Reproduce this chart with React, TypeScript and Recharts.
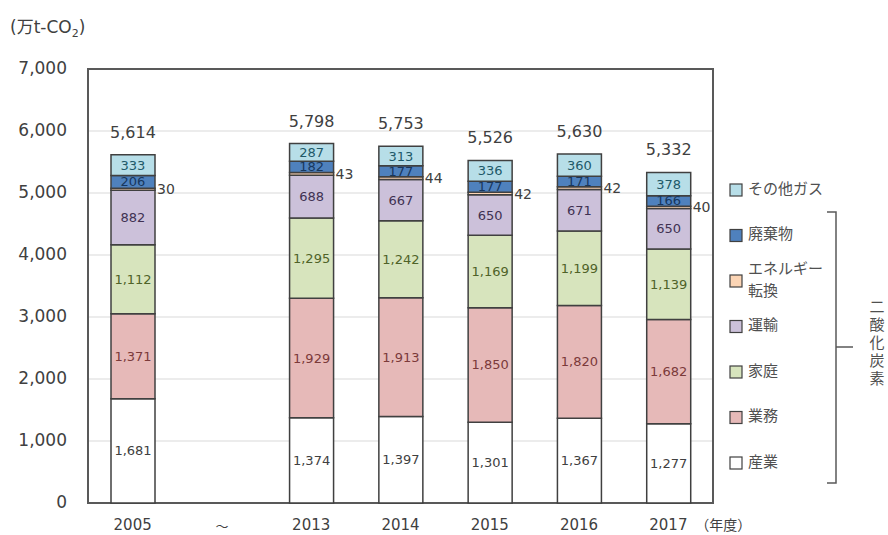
import { Bar, BarChart, CartesianGrid, LabelList, Legend, ReferenceArea, XAxis, YAxis } from "recharts";

const CATEGORIES = ["2005", "~", "2013", "2014", "2015", "2016", "2017"];
const INDUSTRY = [1681, null, 1374, 1397, 1301, 1367, 1277];
const COMMERCIAL = [1371, null, 1929, 1913, 1850, 1820, 1682];
const HOUSEHOLD = [1112, null, 1295, 1242, 1169, 1199, 1139];
const TRANSPORT = [882, null, 688, 667, 650, 671, 650];
const ENERGY = [30, null, 43, 44, 42, 42, 40];
const WASTE = [206, null, 182, 177, 177, 171, 166];
const OTHER_GAS = [333, null, 287, 313, 336, 360, 378];
const TOTALS = [5614, null, 5798, 5753, 5526, 5630, 5332];
const Y_TICKS = [0, 1000, 2000, 3000, 4000, 5000, 6000, 7000];

const NUM_FONT = '"DejaVu Sans", "Noto Sans CJK JP", sans-serif';
const JP_FONT = '"Noto Sans CJK JP", sans-serif';
const AXIS_TEXT = "#404040";
const BAR_STROKE = "#404040";

// bottom to top, same order as the stack
const SERIES = [
  { key: "industry", name: "産業", values: INDUSTRY, fill: "#ffffff", text: "#404040" },
  { key: "commercial", name: "業務", values: COMMERCIAL, fill: "#e6b9b8", text: "#7b3a3a" },
  { key: "household", name: "家庭", values: HOUSEHOLD, fill: "#d7e4bd", text: "#4f6228" },
  { key: "transport", name: "運輸", values: TRANSPORT, fill: "#ccc1da", text: "#403152" },
  { key: "energy", name: "エネルギー転換", values: ENERGY, fill: "#fcd5b5", text: "#404040" },
  { key: "waste", name: "廃棄物", values: WASTE, fill: "#4f81bd", text: "#17375e" },
  { key: "other", name: "その他ガス", values: OTHER_GAS, fill: "#b7dee8", text: "#215968" },
];

const data = CATEGORIES.map((year, i) => {
  const row: Record<string, string | number | null> = { year, total: TOTALS[i] };
  SERIES.forEach((s) => {
    row[s.key] = s.values[i];
  });
  return row;
});

const fmt = (v: number) => v.toLocaleString("en-US");

function box(props: any) {
  const vb = props.viewBox ?? props;
  return {
    x: Number(vb.x ?? props.x),
    y: Number(vb.y ?? props.y),
    width: Number(vb.width ?? props.width),
    height: Number(vb.height ?? props.height),
  };
}

const insideLabel = (color: string) => (props: any) => {
  if (props.value == null) return null;
  const { x, y, width, height } = box(props);
  return (
    <text
      x={x + width / 2}
      y={y + height / 2}
      textAnchor="middle"
      dominantBaseline="central"
      fill={color}
      fontSize={13}
      fontFamily={NUM_FONT}
    >
      {fmt(props.value)}
    </text>
  );
};

const sideLabel = (props: any) => {
  if (props.value == null) return null;
  const { x, y, width, height } = box(props);
  return (
    <text
      x={x + width + 2}
      y={y + height / 2}
      textAnchor="start"
      dominantBaseline="central"
      fill={AXIS_TEXT}
      fontSize={14}
      fontFamily={NUM_FONT}
    >
      {props.value}
    </text>
  );
};

const totalLabel = (props: any) => {
  if (props.value == null) return null;
  const { x, y, width } = box(props);
  return (
    <text x={x + width / 2} y={y - 17} textAnchor="middle" fill={AXIS_TEXT} fontSize={16} fontFamily={NUM_FONT}>
      {fmt(props.value)}
    </text>
  );
};

function YTick(props: any) {
  return (
    <text
      x={67}
      y={props.y - 1}
      textAnchor="end"
      dominantBaseline="central"
      fill={AXIS_TEXT}
      fontSize={17}
      fontFamily={NUM_FONT}
    >
      {fmt(props.payload.value)}
    </text>
  );
}

function XTick(props: any) {
  const { x, payload } = props;
  if (payload.value === "~") {
    return (
      <text x={x} y={525} textAnchor="middle" dominantBaseline="central" fill={AXIS_TEXT} fontSize={13} fontFamily={JP_FONT}>
        ～
      </text>
    );
  }
  const last = payload.value === CATEGORIES[CATEGORIES.length - 1];
  return (
    <g>
      <text x={x} y={525} textAnchor="middle" dominantBaseline="central" fill={AXIS_TEXT} fontSize={15} fontFamily={NUM_FONT}>
        {payload.value}
      </text>
      {last && (
        <text x={x + 27} y={524} textAnchor="start" dominantBaseline="central" fill={AXIS_TEXT} fontSize={14} fontFamily={JP_FONT}>
          （年度）
        </text>
      )}
    </g>
  );
}

// legend is drawn in page coordinates, shifted by the wrapper offset
const LEG_X = 725;
const LEG_Y = 165;

function renderLegend() {
  const items = [...SERIES].reverse();
  return (
    <svg width={163} height={340} style={{ display: "block", overflow: "visible" }}>
      <g transform={`translate(${-LEG_X}, ${-LEG_Y})`}>
        {items.map((item, i) => {
          const cy = 190 + i * 45.5;
          const lines = item.key === "energy" ? ["エネルギー", "転換"] : [item.name];
          return (
            <g key={item.key}>
              <rect x={730} y={cy - 6} width={12} height={12} fill={item.fill} stroke={BAR_STROKE} strokeWidth={1.2} />
              {lines.map((line, j) => (
                <text
                  key={line}
                  x={748}
                  y={cy - 3 + (j - (lines.length - 1) / 2) * 22}
                  dominantBaseline="central"
                  fill="#505050"
                  fontSize={15}
                  fontFamily={JP_FONT}
                >
                  {line}
                </text>
              ))}
            </g>
          );
        })}
        <path d="M827,212 H836 V483 H827 M836,347 H853" fill="none" stroke="#595959" strokeWidth={1.5} />
        <text
          x={877}
          y={299}
          style={{ writingMode: "vertical-rl" }}
          letterSpacing={3}
          fill="#505050"
          fontSize={15}
          fontFamily={JP_FONT}
        >
          二酸化炭素
        </text>
      </g>
    </svg>
  );
}

export default function App() {
  return (
    <div style={{ position: "absolute", left: 0, top: 0 }}>
      <BarChart width={888} height={535} data={data} margin={{ top: 69, right: 175, bottom: 0, left: 0 }}>
        <CartesianGrid vertical={false} stroke="#d9d9d9" />
        <XAxis dataKey="year" height={32} axisLine={false} tickLine={false} interval={0} tick={<XTick />} />
        <YAxis
          width={88}
          domain={[0, 7000]}
          ticks={Y_TICKS}
          axisLine={false}
          tickLine={false}
          tick={<YTick />}
          label={{
            content: () => (
              <text x={10} y={33} fill={AXIS_TEXT} fontSize={17} fontFamily={NUM_FONT}>
                (万t-CO
                <tspan fontSize={11} dy={4}>
                  2
                </tspan>
                <tspan dy={-4}>)</tspan>
              </text>
            ),
          }}
        />
        {SERIES.map((s) => (
          <Bar
            key={s.key}
            dataKey={s.key}
            name={s.name}
            stackId="co2"
            fill={s.fill}
            stroke={BAR_STROKE}
            strokeWidth={1.5}
            barSize={44}
            isAnimationActive={false}
          >
            <LabelList dataKey={s.key} content={s.key === "energy" ? sideLabel : insideLabel(s.text)} />
            {s.key === "other" && <LabelList dataKey="total" content={totalLabel} />}
          </Bar>
        ))}
        <ReferenceArea y1={0} y2={7000} fill="none" fillOpacity={0} stroke="#595959" strokeWidth={2} />
        <Legend
          layout="vertical"
          align="center"
          verticalAlign="middle"
          content={renderLegend}
          wrapperStyle={{ left: LEG_X, top: LEG_Y, width: 163, height: 340 }}
        />
      </BarChart>
    </div>
  );
}
